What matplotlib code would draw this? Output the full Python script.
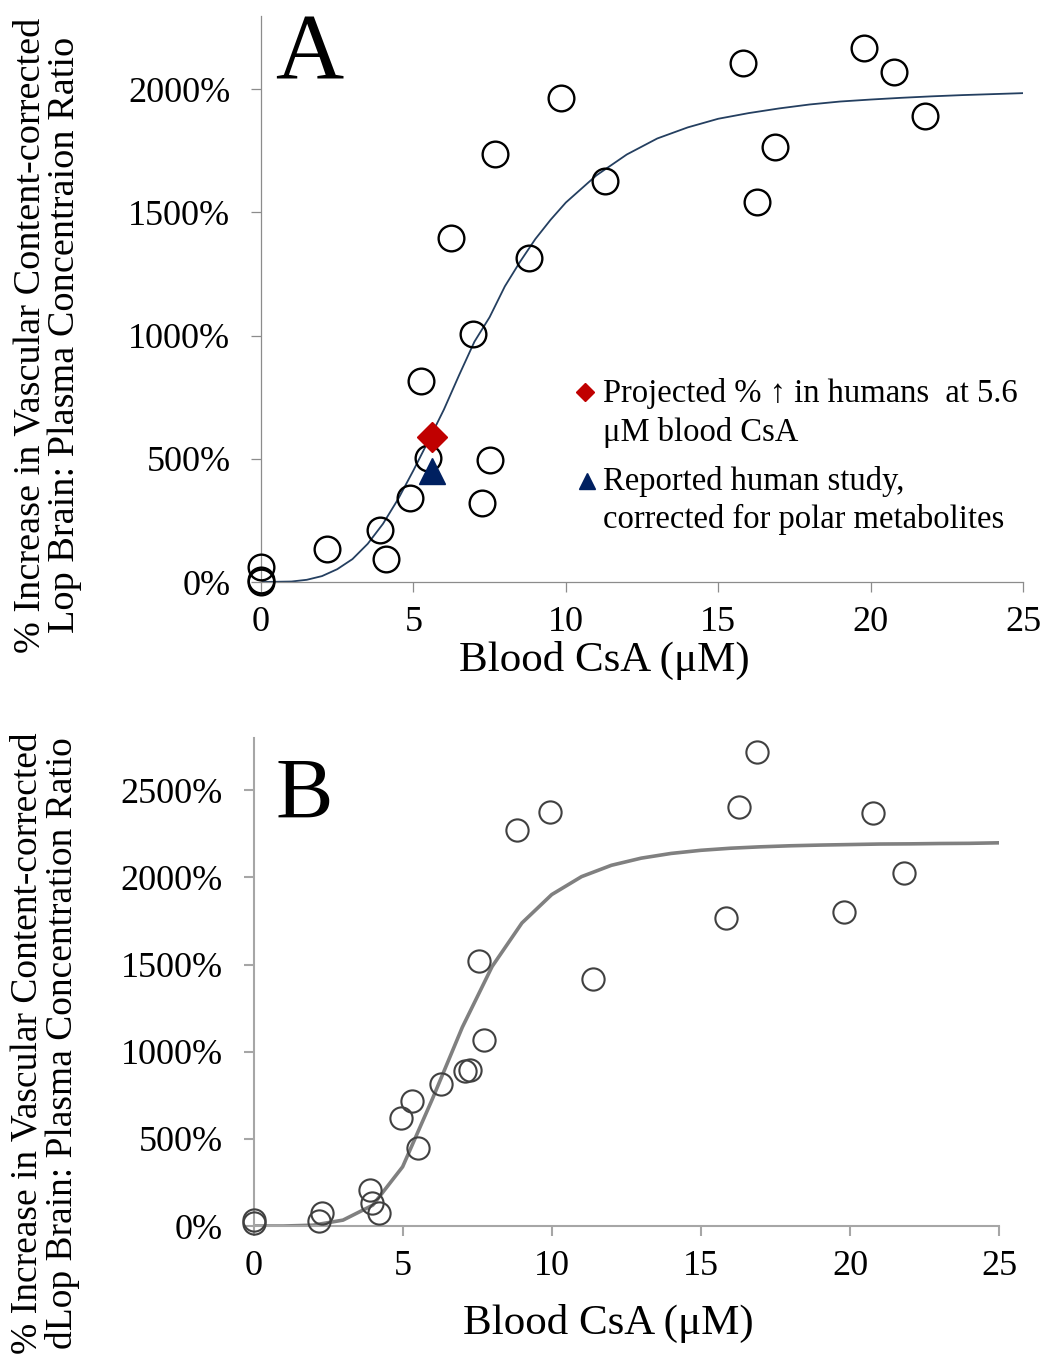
import matplotlib
matplotlib.use("Agg")
import matplotlib.pyplot as plt

plt.rcParams['font.family'] = ['Liberation Serif', 'DejaVu Serif']

# panel A: Lop data
a_x = [0, 0, 0, 2.16, 3.91, 4.1, 4.89, 5.25, 5.49, 6.23, 6.97, 7.25, 7.52, 7.68,
       8.79, 9.85, 11.3, 15.8, 16.28, 16.85, 19.78, 20.77, 21.77]
a_y = [60, 0, 8, 134, 210, 93, 340, 815, 503, 1396, 1005, 322, 495, 1738,
       1315, 1964, 1628, 2105, 1542, 1767, 2169, 2069, 1893]
a_fit_x = [0, 1, 1.5, 2, 2.5, 3, 3.5, 4, 4.5, 5, 5.5, 6, 6.5, 7, 7.5, 8, 8.5, 9, 9.5, 10,
           11, 12, 13, 14, 15, 16, 17, 18, 19, 20, 21, 22, 23, 24, 25]
a_fit_y = [0, 2, 9, 24, 52, 93, 155, 236, 337, 453, 575, 700, 840, 975, 1075, 1200, 1300,
           1392, 1470, 1540, 1650, 1735, 1800, 1845, 1880, 1903, 1922, 1938, 1950,
           1958, 1965, 1971, 1976, 1980, 1984]
proj_x, proj_y = [5.6], [588]
human_x, human_y = [5.6], [450]

# panel B: dLop data
b_x = [0, 0, 2.2, 2.3, 3.9, 3.98, 4.2, 4.95, 5.32, 5.52, 6.3, 7.08, 7.27, 7.55,
       7.74, 8.83, 9.93, 11.38, 15.85, 16.29, 16.87, 19.8, 20.78, 21.8]
b_y = [20, 35, 30, 73, 207, 130, 76, 618, 717, 449, 815, 891, 895, 1520,
       1067, 2272, 2373, 1415, 1765, 2406, 2721, 1803, 2371, 2027]
b_fit_x = list(range(0, 26))
b_fit_y = [0, 0, 5, 34, 120, 340, 730, 1140, 1489, 1739, 1902, 2005, 2070, 2111,
           2138, 2156, 2168, 2176, 2182, 2186, 2189, 2192, 2193, 2195, 2196, 2199]

x_ticks = [0, 5, 10, 15, 20, 25]
a_yticks = [0, 500, 1000, 1500, 2000]
b_yticks = [0, 500, 1000, 1500, 2000, 2500]

ylab_1 = "% Increase in Vascular Content-corrected"
ylab_a = ylab_1 + "\nLop Brain: Plasma Concentraion Ratio"
ylab_b = ylab_1 + "\ndLop Brain: Plasma Concentration Ratio"
xlab = "Blood CsA (\u03bcM)"


def style(ax, col, lw, ymax, yticks):
    ax.spines['top'].set_visible(False)
    ax.spines['right'].set_visible(False)
    for s in ['left', 'bottom']:
        ax.spines[s].set_color(col)
        ax.spines[s].set_linewidth(lw)
    ax.set_xlim(0, 25)
    ax.set_ylim(0, ymax)
    ax.set_xticks(x_ticks)
    ax.set_yticks(yticks)
    ax.set_yticklabels([f"{v}%" for v in yticks])
    ax.tick_params(axis='both', direction='out', length=7, width=lw, color=col,
                   labelsize=26)
    ax.tick_params(axis='y', pad=15)
    ax.tick_params(axis='x', pad=10)


fig = plt.figure(figsize=(10.42, 13.57), dpi=100)

# ---- A ----
axA = fig.add_axes([0.2505, 0.5711, 0.7313, 0.4171])
style(axA, '#8c8c8c', 0.9, 2297, a_yticks)
axA.plot(a_fit_x, a_fit_y, color='#243F60', lw=1.3, zorder=2)
axA.plot(a_x, a_y, ls='none', marker='o', ms=18.5, mfc='none', mec='black',
         mew=1.7, clip_on=False, zorder=3)
axA.plot(proj_x, proj_y, ls='none', marker='D', ms=15, color='#C00000', zorder=4)
axA.plot(human_x, human_y, ls='none', marker='^', ms=19, color='#002060', zorder=4)
axA.text(0.018, 0.890, "A", transform=axA.transAxes, fontsize=68, va='baseline')

# legend (drawn by hand so the keys line up with the first text line)
axA.plot([0.4252], [0.3357], transform=axA.transAxes, marker='D', ms=9,
         color='#C00000', ls='none', clip_on=False)
axA.plot([0.4278], [0.1784], transform=axA.transAxes, marker='^', ms=11,
         color='#002060', ls='none', clip_on=False)
leg_lines = [("Projected % \u2191 in humans  at 5.6", 0.3322),
             ("\u03bcM blood CsA", 0.265),
             ("Reported human study,", 0.1784),
             ("corrected for polar metabolites", 0.1113)]
for txt, yy in leg_lines:
    axA.text(0.449, yy, txt, transform=axA.transAxes, fontsize=23.5, va='center')

axA.set_ylabel(ylab_a, fontsize=27.5, linespacing=1.0)
axA.yaxis.set_label_coords(-0.235, 0.436)
axA.set_xlabel(xlab, fontsize=31)
axA.xaxis.set_label_coords(0.451, -0.104)

# ---- B ----
axB = fig.add_axes([0.2433, 0.0965, 0.7155, 0.3596])
style(axB, '#a6a6a6', 1.5, 2800, b_yticks)
axB.plot(b_fit_x, b_fit_y, color='#808080', lw=2.6, zorder=2)
axB.plot(b_x, b_y, ls='none', marker='o', ms=16, mfc='none', mec='#404040',
         mew=1.5, clip_on=False, zorder=3)
axB.text(0.029, 0.836, "B", transform=axB.transAxes, fontsize=62, va='baseline')

axB.set_ylabel(ylab_b, fontsize=27, linespacing=1.0)
axB.yaxis.set_label_coords(-0.233, 0.375)
axB.set_xlabel(xlab, fontsize=31)
axB.xaxis.set_label_coords(0.4755, -0.16)

fig.savefig("out.png", dpi=100)
